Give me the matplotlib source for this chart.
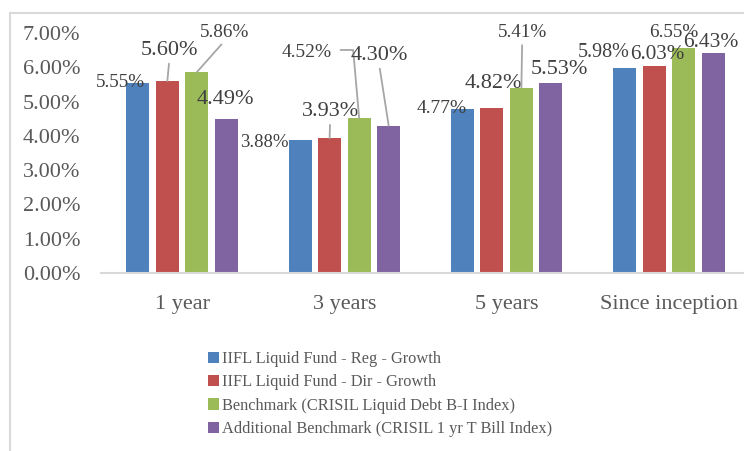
import matplotlib
matplotlib.use('Agg')
import matplotlib.pyplot as plt
import numpy as np
from matplotlib.patches import Rectangle

categories = ['1 year', '3 years', '5 years', 'Since inception']
series_names = ['IIFL Liquid Fund - Reg - Growth',
                'IIFL Liquid Fund - Dir - Growth',
                'Benchmark (CRISIL Liquid Debt B-I Index)',
                'Additional Benchmark (CRISIL 1 yr T Bill Index)']
reg_growth = [5.55, 3.88, 4.77, 5.98]
dir_growth = [5.60, 3.93, 4.82, 6.03]
benchmark = [5.86, 4.52, 5.41, 6.55]
addl_benchmark = [4.49, 4.30, 5.53, 6.43]
y_ticks = [0, 1, 2, 3, 4, 5, 6, 7]

series = [reg_growth, dir_growth, benchmark, addl_benchmark]
colors = ['#4F81BD', '#C0504D', '#9BBB59', '#8064A2']

# label placement (pixel offsets from bar top), font sizes, leader line flags
label_offsets = [
    [(-17, 2), (-36, -1), (-21, 3), (-21, 17)],
    [(2, 33), (0.5, 29), (1.3, 26), (3, 14)],
    [(28, 42), (-52, 68), (0.8, 57), (-10, 18)],
    [(-1, 22), (-9.5, 72.5), (8, 16), (-2, 12.5)],
]
label_sizes = [
    [13.8, 13.5, 14, 14.5],
    [16, 16, 16, 15.2],
    [13.8, 14, 13.8, 13.8],
    [16, 16, 16, 15.5],
]
leaders = [
    [None, None, None, None],
    ['line', 'line', None, None],
    ['line', 'elbow', 'line', None],
    [None, 'line', None, None],
]

font = 'Liberation Serif'
plt.rcParams['font.family'] = [font, 'DejaVu Serif']
txt_color = '#595959'
grid_color = '#D9D9D9'
leader_color = '#A6A6A6'

W, H = 744, 451
fig = plt.figure(figsize=(W / 100, H / 100), dpi=100)
ax = fig.add_axes([101 / W, 1 - 273 / H, 649 / W, 240 / H])

x = np.arange(len(categories))
pitch = 0.182
bw = 0.142
for j, (vals, col) in enumerate(zip(series, colors)):
    xs = x + (j - 1.5) * pitch
    ax.bar(xs, vals, width=bw, color=col, label=series_names[j], zorder=2)
    for i, v in enumerate(vals):
        dx, dy = label_offsets[j][i]
        kind = leaders[j][i]
        arrowprops = None
        if kind == 'line':
            arrowprops = dict(arrowstyle='-', color=leader_color, lw=1.3,
                              relpos=(0.5, 0), shrinkA=1, shrinkB=0)
        elif kind == 'elbow':
            arrowprops = dict(arrowstyle='-', color=leader_color, lw=1.3,
                              relpos=(1, 0.62), shrinkA=4, shrinkB=0,
                              connectionstyle='angle,angleA=0,angleB=95,rad=0')
        ax.annotate(f'{v:.2f}%', xy=(xs[i], v), xycoords='data',
                    xytext=(dx, dy - 2), textcoords='offset pixels',
                    ha='center', va='center', fontsize=label_sizes[j][i],
                    color='#404040', arrowprops=arrowprops, zorder=3,
                    annotation_clip=False)

ax.set_xlim(-0.5, 3.5)
ax.set_ylim(0, 7)
ax.set_yticks(y_ticks)
ax.set_yticklabels([f'{t:.2f}%' for t in y_ticks])
ax.set_xticks(x)
ax.set_xticklabels(categories)
ax.tick_params(axis='both', length=0, labelsize=16, labelcolor=txt_color)
ax.tick_params(axis='y', pad=15)
ax.tick_params(axis='x', pad=16)
for s in ['top', 'right', 'left']:
    ax.spines[s].set_visible(False)
ax.spines['bottom'].set_color(grid_color)
ax.spines['bottom'].set_linewidth(1.5)
ax.patch.set_alpha(0)

# outer frame
fig.patches.append(Rectangle((10 / W, -0.1), 1.2, 1 - 13 / H + 0.1,
                             transform=fig.transFigure, fill=False,
                             edgecolor=grid_color, lw=1.5))

leg = fig.legend(loc='upper left', bbox_to_anchor=(208 / W, 1 - 351 / H),
                 frameon=False, fontsize=11.8, labelcolor=txt_color,
                 handlelength=0.7, handleheight=0.7, handletextpad=0.18,
                 labelspacing=0.45, borderpad=0, borderaxespad=0)

fig.savefig('out.png', dpi=100)
